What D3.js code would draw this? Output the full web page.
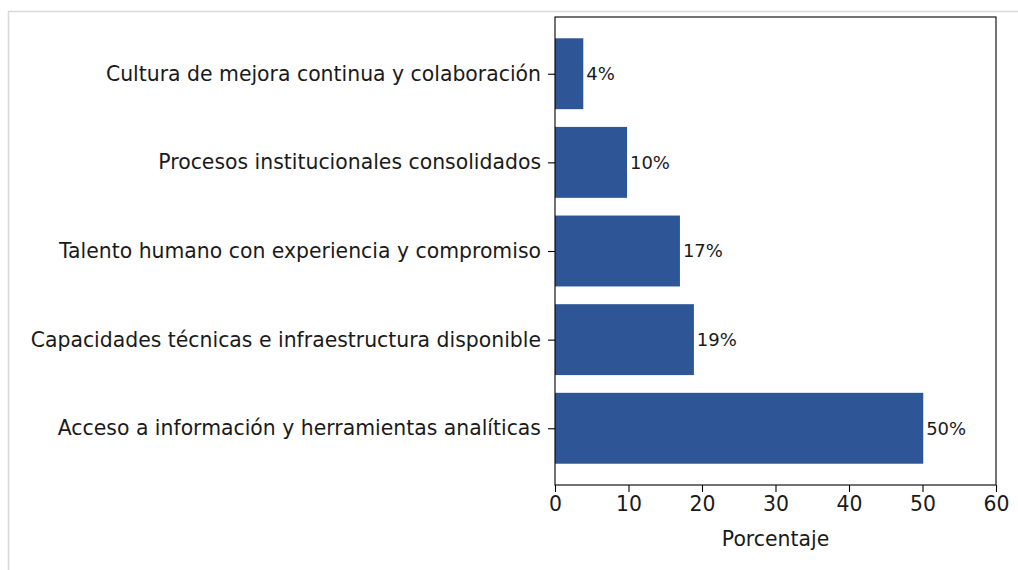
<!DOCTYPE html>
<html>
<head>
<meta charset="utf-8">
<script src="https://cdn.jsdelivr.net/npm/d3@7"></script>
<style>
  html, body { margin: 0; padding: 0; background: #fff; }
  svg { display: block; }
  text { font-family: "DejaVu Sans", sans-serif; fill: #1a1a1a; }
</style>
</head>
<body>
<svg id="chart" width="1018" height="570"></svg>
<script>
// Data (bottom to top, as drawn)
const categories = [
  "Acceso a información y herramientas analíticas",
  "Capacidades técnicas e infraestructura disponible",
  "Talento humano con experiencia y compromiso",
  "Procesos institucionales consolidados",
  "Cultura de mejora continua y colaboración"
];
const values = [50.1, 18.9, 17.0, 9.8, 3.85];
const valueLabels = ["50%", "19%", "17%", "10%", "4%"];
const xTicks = [0, 10, 20, 30, 40, 50, 60];
const xLabel = "Porcentaje";

(function () {
const svg = d3.select("#chart");
const W = 1018, H = 570;

// outer frame (light gray)
svg.append("rect")
  .attr("x", 8.5).attr("y", 11.5)
  .attr("width", W + 10).attr("height", H + 10)
  .attr("fill", "none").attr("stroke", "#d9d9d9").attr("stroke-width", 1.5);

const pLeft = 555, pRight = 996, pTop = 17, pBottom = 485;
const fs = 20.4;

const x = d3.scaleLinear().domain([0, 60]).range([pLeft, pRight]);
const y = d3.scaleLinear().domain([-0.64, 4.64]).range([pBottom, pTop]);
const barH = 0.8;

// bars
svg.append("g").selectAll("rect")
  .data(values)
  .join("rect")
  .attr("x", x(0))
  .attr("y", (d, i) => y(i + barH / 2))
  .attr("width", d => x(d) - x(0))
  .attr("height", (d, i) => y(i - barH / 2) - y(i + barH / 2))
  .attr("fill", "#2e5596");

// value labels
svg.append("g").selectAll("text")
  .data(values)
  .join("text")
  .attr("x", d => x(d + 0.4))
  .attr("y", (d, i) => y(i))
  .attr("dy", "0.35em")
  .attr("font-size", 18)
  .text((d, i) => valueLabels[i]);

// x axis
const xAxis = d3.axisBottom(x).tickValues(xTicks).tickSize(7).tickPadding(5).tickFormat(d3.format("d"));
const gx = svg.append("g").attr("transform", `translate(0,${pBottom})`).call(xAxis);
gx.select(".domain").remove();
gx.selectAll(".tick line").attr("stroke", "#000").attr("stroke-width", 1.1);
gx.selectAll(".tick text").attr("font-size", fs).attr("font-family", "DejaVu Sans").attr("fill", "#1a1a1a");

// y axis
const yAxis = d3.axisLeft(y).tickValues(d3.range(categories.length)).tickSize(7).tickPadding(7)
  .tickFormat(i => categories[i]);
const gy = svg.append("g").attr("transform", `translate(${pLeft},0)`).call(yAxis);
gy.select(".domain").remove();
gy.selectAll(".tick line").attr("stroke", "#000").attr("stroke-width", 1.1);
gy.selectAll(".tick text").attr("font-size", fs).attr("font-family", "DejaVu Sans").attr("fill", "#1a1a1a");

// frame (spines)
svg.append("rect")
  .attr("x", pLeft).attr("y", pTop)
  .attr("width", pRight - pLeft).attr("height", pBottom - pTop)
  .attr("fill", "none").attr("stroke", "#000").attr("stroke-width", 1.1);

// x label
svg.append("text")
  .attr("x", (pLeft + pRight) / 2)
  .attr("y", 546)
  .attr("text-anchor", "middle")
  .attr("font-size", fs)
  .text(xLabel);
})();
</script>
</body>
</html>
